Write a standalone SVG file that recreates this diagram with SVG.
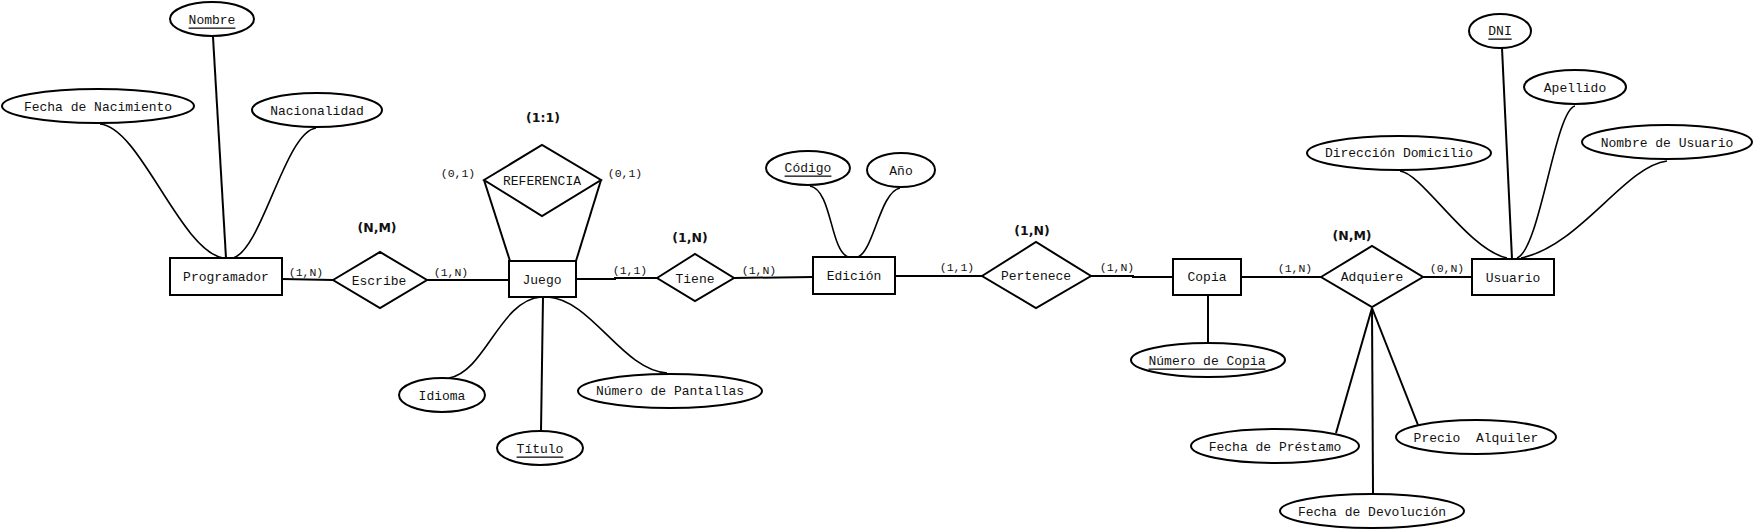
<svg xmlns="http://www.w3.org/2000/svg" width="1756" height="532" viewBox="0 0 1756 532">
<style>
.ent rect{fill:#fff;stroke:#000;stroke-width:2}
.rel polygon{fill:#fff;stroke:#000;stroke-width:2}
.att ellipse{fill:#fff;stroke:#000;stroke-width:2}
text{font-family:"Liberation Mono","DejaVu Sans Mono",monospace;font-size:13px;text-anchor:middle;dominant-baseline:central;fill:#111}
.c{font-size:11.5px}
.b{font-family:"DejaVu Sans","Liberation Sans",sans-serif;font-weight:bold;font-size:12.5px}
.u{text-decoration:underline}
.pre{white-space:pre}
#connectors path,#connectors line{stroke:#000;stroke-width:2;fill:none}
#connectors .cv{stroke-width:1.6}
</style>
<rect width="1756" height="532" fill="#fff"/>
<g id="connectors">
  <line x1="282" y1="279" x2="333" y2="280"/>
  <line x1="427" y1="280" x2="509" y2="280"/>
  <path d="M576 279 H615 V278 H657"/>
  <line x1="734" y1="278" x2="813" y2="277"/>
  <line x1="895" y1="276" x2="982" y2="276"/>
  <path d="M1091 276 H1133 V277 H1173"/>
  <line x1="1241" y1="277" x2="1321" y2="277"/>
  <line x1="1423" y1="277" x2="1472" y2="277"/>
  <line x1="484" y1="180" x2="510" y2="261"/>
  <line x1="601" y1="180" x2="576" y2="261"/>
  <line x1="213" y1="37" x2="226" y2="258"/>
  <path class="cv" d="M100 124 C140 127 180 250 223 258"/>
  <path class="cv" d="M316 128 C285 132 262 250 233 258"/>
  <path class="cv" d="M541 297 C500 300 485 372 449 378"/>
  <line x1="543" y1="297" x2="541" y2="431"/>
  <path class="cv" d="M548 297 C592 300 622 370 667 373"/>
  <path class="cv" d="M810 186 C832 190 830 250 848 257"/>
  <path class="cv" d="M900 188 C880 192 874 250 858 257"/>
  <line x1="1208" y1="295" x2="1208" y2="343"/>
  <line x1="1502" y1="48" x2="1512" y2="259"/>
  <path class="cv" d="M1400 171 C1422 173 1468 250 1507 258"/>
  <path class="cv" d="M1575 106 C1555 110 1540 250 1517 258"/>
  <path class="cv" d="M1667 161 C1625 166 1580 246 1521 258"/>
  <line x1="1372" y1="308" x2="1336" y2="433"/>
  <line x1="1372" y1="308" x2="1373" y2="493"/>
  <line x1="1372" y1="308" x2="1418" y2="425"/>
</g>
<g id="cardinalities">
  <text class="c" x="306" y="272">(1,N)</text>
  <text class="c" x="451" y="272">(1,N)</text>
  <text class="c" x="458" y="173">(0,1)</text>
  <text class="c" x="625" y="173">(0,1)</text>
  <text class="c" x="630" y="270">(1,1)</text>
  <text class="c" x="759" y="270">(1,N)</text>
  <text class="c" x="957" y="267">(1,1)</text>
  <text class="c" x="1117" y="267">(1,N)</text>
  <text class="c" x="1295" y="268">(1,N)</text>
  <text class="c" x="1447" y="268">(0,N)</text>
  <text class="b" x="377" y="227">(N,M)</text>
  <text class="b" x="543" y="117">(1:1)</text>
  <text class="b" x="690" y="237">(1,N)</text>
  <text class="b" x="1032" y="230">(1,N)</text>
  <text class="b" x="1352" y="235">(N,M)</text>
</g>
<g id="programador" class="ent"><rect x="170" y="258" width="112" height="37"/><text x="226" y="277">Programador</text></g>
<g id="juego" class="ent"><rect x="509" y="261" width="67" height="36"/><text x="542" y="280">Juego</text></g>
<g id="edicion" class="ent"><rect x="813" y="257" width="82" height="37"/><text x="854" y="276">Edición</text></g>
<g id="copia" class="ent"><rect x="1173" y="259" width="68" height="36"/><text x="1207" y="277">Copia</text></g>
<g id="usuario" class="ent"><rect x="1472" y="259" width="82" height="36"/><text x="1513" y="278">Usuario</text></g>
<g id="escribe" class="rel"><polygon points="333,280 380,252 427,280 380,308"/><text x="379" y="281">Escribe</text></g>
<g id="referencia" class="rel"><polygon points="484,180 542,145 601,180 542,216"/><text x="542" y="181">REFERENCIA</text></g>
<g id="tiene" class="rel"><polygon points="657,278 695,254 734,278 695,301"/><text x="695" y="279">Tiene</text></g>
<g id="pertenece" class="rel"><polygon points="982,276 1036,242 1091,276 1036,308"/><text x="1036" y="276">Pertenece</text></g>
<g id="adquiere" class="rel"><polygon points="1321,277 1372,246 1423,277 1372,307"/><text x="1372" y="277">Adquiere</text></g>
<g id="att-nombre" class="att"><ellipse cx="212" cy="19" rx="42" ry="17"/><text class="u" x="212" y="20">Nombre</text></g>
<g id="att-fecha-nac" class="att"><ellipse cx="98" cy="106" rx="96" ry="17"/><text x="98" y="107">Fecha de Nacimiento</text></g>
<g id="att-nacionalidad" class="att"><ellipse cx="317" cy="110" rx="65" ry="17"/><text x="317" y="111">Nacionalidad</text></g>
<g id="att-idioma" class="att"><ellipse cx="442" cy="395" rx="43" ry="17"/><text x="442" y="396">Idioma</text></g>
<g id="att-titulo" class="att"><ellipse cx="540" cy="448" rx="43" ry="17"/><text class="u" x="540" y="449">Título</text></g>
<g id="att-pantallas" class="att"><ellipse cx="670" cy="391" rx="92" ry="17"/><text x="670" y="391">Número de Pantallas</text></g>
<g id="att-codigo" class="att"><ellipse cx="808" cy="168" rx="42" ry="17"/><text class="u" x="808" y="168">Código</text></g>
<g id="att-anio" class="att"><ellipse cx="901" cy="170" rx="34" ry="17"/><text x="901" y="171">Año</text></g>
<g id="att-num-copia" class="att"><ellipse cx="1208" cy="360" rx="77" ry="17"/><text class="u" x="1207" y="361">Número de Copia</text></g>
<g id="att-dni" class="att"><ellipse cx="1500" cy="31" rx="31" ry="17"/><text class="u" x="1500" y="31">DNI</text></g>
<g id="att-apellido" class="att"><ellipse cx="1575" cy="87" rx="51" ry="17"/><text x="1575" y="88">Apellido</text></g>
<g id="att-nombre-usuario" class="att"><ellipse cx="1667" cy="142" rx="85" ry="17"/><text x="1667" y="143">Nombre de Usuario</text></g>
<g id="att-direccion" class="att"><ellipse cx="1399" cy="153" rx="92" ry="17"/><text x="1399" y="153">Dirección Domicilio</text></g>
<g id="att-prestamo" class="att"><ellipse cx="1275" cy="446" rx="84" ry="17"/><text x="1275" y="447">Fecha de Préstamo</text></g>
<g id="att-precio" class="att"><ellipse cx="1476" cy="437" rx="80" ry="17"/><text class="pre" x="1476" y="438">Precio  Alquiler</text></g>
<g id="att-devolucion" class="att"><ellipse cx="1372" cy="511" rx="92" ry="17"/><text x="1372" y="512">Fecha de Devolución</text></g>
</svg>
